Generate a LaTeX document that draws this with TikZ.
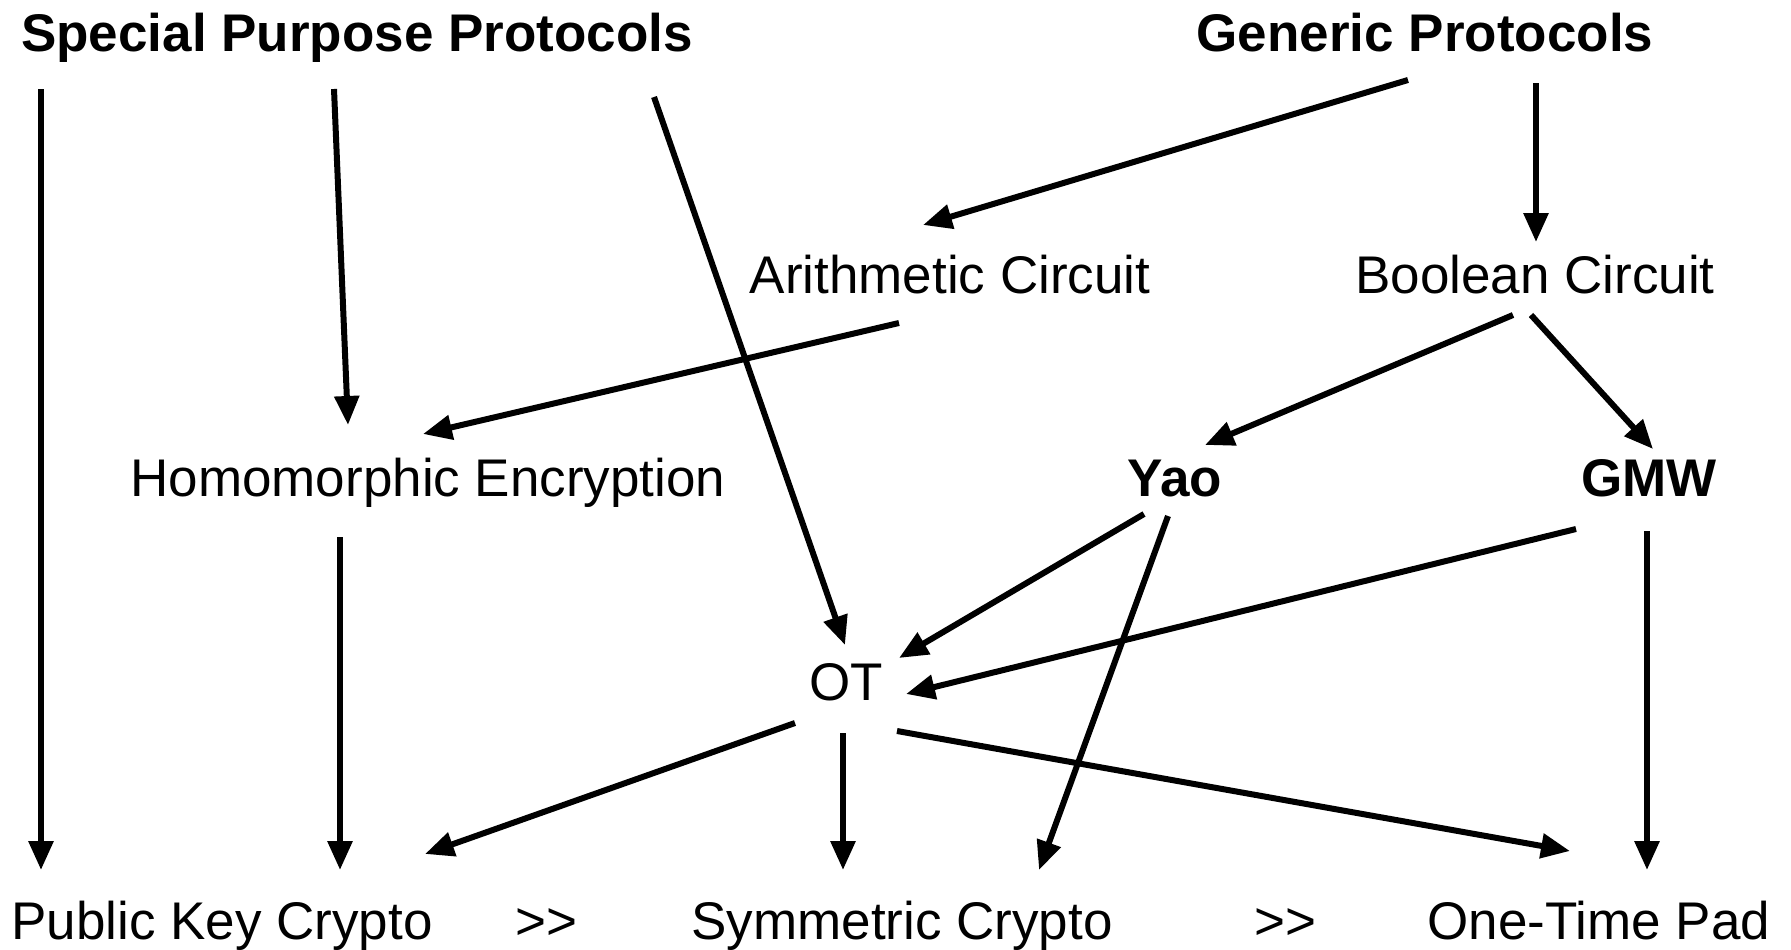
\documentclass[tikz,border=0pt]{standalone}
\usepackage{fontspec}
\setmainfont{Liberation Sans}
\usetikzlibrary{arrows.meta}
\tikzset{
  lbl/.style={inner sep=0pt, anchor=base, font=\fontsize{53}{60}\selectfont},
  hdr/.style={lbl, font=\fontsize{53}{60}\selectfont\bfseries},
  link/.style={line width=6pt, -{Triangle[length=29pt,width=24pt]}},
}
\begin{document}
\begin{tikzpicture}[x=1pt, y=-1pt]
\useasboundingbox (0,0) rectangle (1791,950);

% top level
\node[hdr] (sp)  at (357,52)  {Special Purpose Protocols};
\node[hdr] (gp)  at (1425,52) {Generic Protocols};

% circuit representations
\node[lbl] (ac)  at (950,293)  {Arithmetic Circuit};
\node[lbl] (bc)  at (1535,293) {Boolean Circuit};

% protocols
\node[lbl] (he)  at (428,496)  {Homomorphic Encryption};
\node[hdr] (yao) at (1175,496) {Yao};
\node[hdr] (gmw) at (1649,496) {GMW};

\node[lbl] (ot)  at (846,700)  {OT};

% primitives
\node[lbl] (pk)  at (222,939)  {Public Key Crypto};
\node[lbl] (g1)  at (546,939)  {>{}>};
\node[lbl] (sc)  at (902,939)  {Symmetric Crypto};
\node[lbl] (g2)  at (1285,939) {>{}>};
\node[lbl] (otp) at (1599,939) {One-Time Pad};

% dependencies
\draw[link] ([shift={(-316,37)}]sp.base) -- ([shift={(-181,-69)}]pk.base);
\draw[link] ([shift={(-23,37)}]sp.base)  -- ([shift={(-80,-71)}]he.base);
\draw[link] ([shift={(297,45)}]sp.base)  -- ([shift={(-1,-55)}]ot.base);

\draw[link] ([shift={(-17,28)}]gp.base)  -- ([shift={(-27,-68)}]ac.base);
\draw[link] ([shift={(111,31)}]gp.base)  -- ([shift={(1,-51)}]bc.base);

\draw[link] ([shift={(-51,30)}]ac.base)  -- ([shift={(-5,-62)}]he.base);
\draw[link] ([shift={(-22,22)}]bc.base)  -- ([shift={(30,-51)}]yao.base);
\draw[link] ([shift={(-4,22)}]bc.base)   -- ([shift={(4,-47)}]gmw.base);

\draw[link] ([shift={(-88,41)}]he.base)  -- ([shift={(118,-69)}]pk.base);
\draw[link] ([shift={(-31,18)}]yao.base) -- ([shift={(53,-42)}]ot.base);
\draw[link] ([shift={(-7,20)}]yao.base)  -- ([shift={(137,-69)}]sc.base);
\draw[link] ([shift={(-73,33)}]gmw.base) -- ([shift={(60,-6)}]ot.base);
\draw[link] ([shift={(-2,35)}]gmw.base)  -- ([shift={(48,-69)}]otp.base);

\draw[link] ([shift={(-51,23)}]ot.base)  -- ([shift={(203,-85)}]pk.base);
\draw[link] ([shift={(-3,33)}]ot.base)   -- ([shift={(-59,-69)}]sc.base);
\draw[link] ([shift={(51,31)}]ot.base)   -- ([shift={(-29,-88)}]otp.base);
\end{tikzpicture}
\end{document}
